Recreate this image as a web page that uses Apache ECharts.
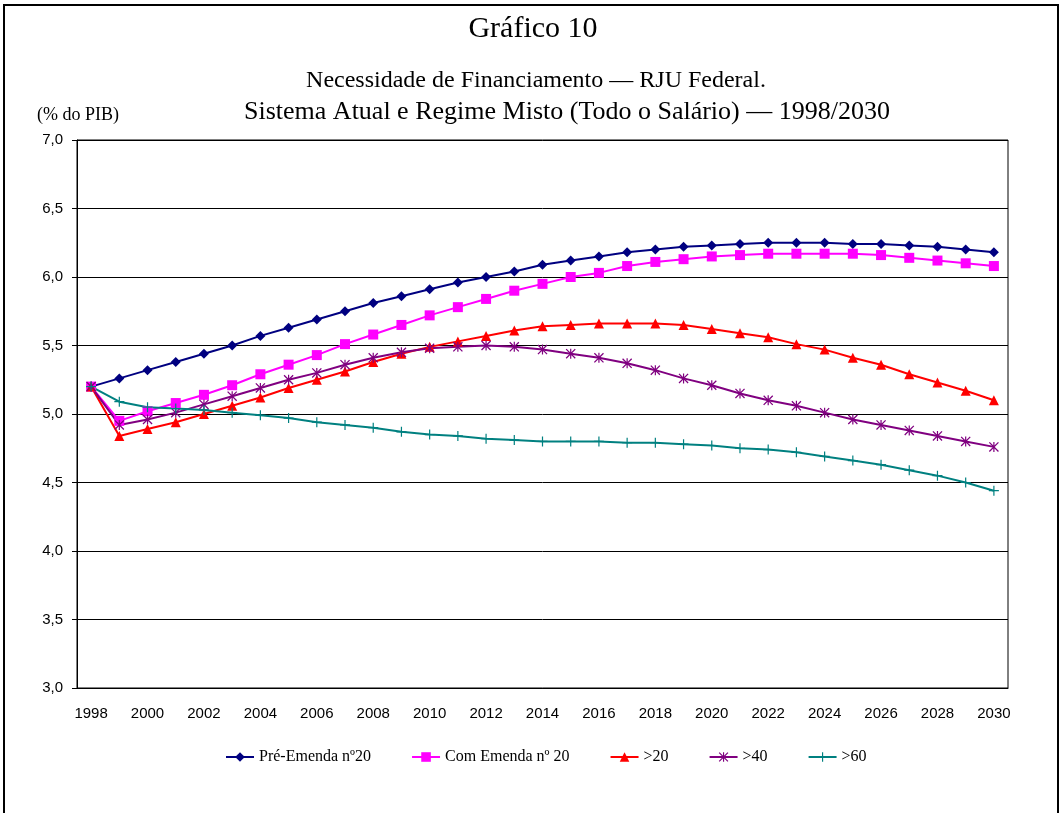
<!DOCTYPE html>
<html>
<head>
<meta charset="utf-8">
<title>Gráfico 10</title>
<script src="https://cdn.jsdelivr.net/npm/echarts@6/dist/echarts.min.js"></script>
<style>
  html, body { margin: 0; padding: 0; background: #fff; }
  #chart { width: 1064px; height: 813px; }
</style>
</head>
<body>
<div id="chart"></div>
<script>
// anos 1998..2030
const years = [];
for (let y = 1998; y <= 2030; y++) years.push(String(y));

const preEmenda = [5.20, 5.26, 5.32, 5.38, 5.44, 5.50, 5.57, 5.63, 5.69, 5.75, 5.81, 5.86, 5.91, 5.96, 6.00,
  6.04, 6.09, 6.12, 6.15, 6.18, 6.20, 6.22, 6.23, 6.24, 6.25, 6.25, 6.25, 6.24, 6.24, 6.23, 6.22, 6.20, 6.18];
const comEmenda = [5.20, 4.95, 5.02, 5.08, 5.14, 5.21, 5.29, 5.36, 5.43, 5.51, 5.58, 5.65, 5.72, 5.78, 5.84,
  5.90, 5.95, 6.00, 6.03, 6.08, 6.11, 6.13, 6.15, 6.16, 6.17, 6.17, 6.17, 6.17, 6.16, 6.14, 6.12, 6.10, 6.08];
const mais20 = [5.20, 4.84, 4.89, 4.94, 5.00, 5.06, 5.12, 5.19, 5.25, 5.31, 5.38, 5.44, 5.49, 5.53, 5.57,
  5.61, 5.64, 5.65, 5.66, 5.66, 5.66, 5.65, 5.62, 5.59, 5.56, 5.51, 5.47, 5.41, 5.36, 5.29, 5.23, 5.17, 5.10];
const mais40 = [5.20, 4.92, 4.96, 5.01, 5.07, 5.13, 5.19, 5.25, 5.30, 5.36, 5.41, 5.45, 5.48, 5.49, 5.50,
  5.49, 5.47, 5.44, 5.41, 5.37, 5.32, 5.26, 5.21, 5.15, 5.10, 5.06, 5.01, 4.96, 4.92, 4.88, 4.84, 4.80, 4.76];
const mais60 = [5.20, 5.09, 5.05, 5.04, 5.03, 5.01, 4.99, 4.97, 4.94, 4.92, 4.90, 4.87, 4.85, 4.84, 4.82,
  4.81, 4.80, 4.80, 4.80, 4.79, 4.79, 4.78, 4.77, 4.75, 4.74, 4.72, 4.69, 4.66, 4.63, 4.59, 4.55, 4.50, 4.44];

const seriesNames = ['Pré-Emenda nº20', 'Com Emenda nº 20', '>20', '>40', '>60'];

// simbolos desenhados como paths (asterisco e cruz)
const asterisk = 'path://M4.4,0H5.6V10H4.4Z M0,0.9L0.9,0L10,9.1L9.1,10Z M9.1,0L10,0.9L0.9,10L0,9.1Z';
const plus = 'path://M4.4,0H5.6V10H4.4Z M0,4.4H10V5.6H0Z';

const serifFont = '"Liberation Serif", "Times New Roman", serif';
const sansFont = '"Liberation Sans", Arial, sans-serif';

function makeSeries(name, data, color, symbol, size) {
  return {
    name: name,
    type: 'line',
    data: data,
    symbol: symbol,
    symbolSize: size,
    showAllSymbol: true,
    lineStyle: { color: color, width: 2 },
    itemStyle: { color: color },
    emphasis: { disabled: true },
    animation: false
  };
}

const chart = echarts.init(document.getElementById('chart'), null, { renderer: 'canvas' });

chart.setOption({
  backgroundColor: '#fff',
  animation: false,
  graphic: [
    { type: 'rect', shape: { x: 4, y: 5, width: 1054, height: 900 },
      style: { fill: 'none', stroke: '#000', lineWidth: 2 } },
    { type: 'text', x: 533, y: 29,
      style: { text: 'Gráfico 10', font: '30px ' + serifFont, fill: '#000', textAlign: 'center', textVerticalAlign: 'middle' } },
    { type: 'text', x: 536, y: 81,
      style: { text: 'Necessidade de Financiamento — RJU Federal.', font: '24px ' + serifFont, fill: '#000', textAlign: 'center', textVerticalAlign: 'middle' } },
    { type: 'text', x: 567, y: 112,
      style: { text: 'Sistema Atual e Regime Misto (Todo o Salário) — 1998/2030', font: '26px ' + serifFont, fill: '#000', textAlign: 'center', textVerticalAlign: 'middle' } },
    { type: 'text', x: 37, y: 115,
      style: { text: '(% do PIB)', font: '18px ' + serifFont, fill: '#000', textAlign: 'left', textVerticalAlign: 'middle' } }
  ],
  legend: {
    data: seriesNames,
    left: 220,
    top: 744,
    itemWidth: 28,
    itemHeight: 12,
    itemGap: 40,
    textStyle: { fontFamily: serifFont, fontSize: 16, color: '#000' }
  },
  grid: { left: 77, right: 56, top: 140, bottom: 125, show: true, borderColor: '#000', borderWidth: 1 },
  xAxis: {
    type: 'category',
    data: years,
    boundaryGap: true,
    axisLine: { lineStyle: { color: '#000', width: 1 } },
    axisTick: { interval: 0, length: 5, lineStyle: { color: '#000' } },
    axisLabel: { interval: 1, margin: 18, color: '#000', fontFamily: sansFont, fontSize: 15 },
    splitLine: { show: false }
  },
  yAxis: {
    type: 'value',
    min: 3,
    max: 7,
    interval: 0.5,
    axisLine: { show: true, lineStyle: { color: '#000', width: 1 } },
    axisTick: { show: true, length: 5, lineStyle: { color: '#000' } },
    axisLabel: {
      margin: 14, color: '#000', fontFamily: sansFont, fontSize: 15,
      formatter: v => v.toFixed(1).replace('.', ',')
    },
    splitLine: { lineStyle: { color: '#000', width: 1 } }
  },
  series: [
    makeSeries(seriesNames[0], preEmenda, '#000080', 'diamond', 10),
    makeSeries(seriesNames[1], comEmenda, '#ff00ff', 'rect', 10),
    makeSeries(seriesNames[2], mais20, '#ff0000', 'triangle', 10),
    makeSeries(seriesNames[3], mais40, '#800080', asterisk, 10),
    makeSeries(seriesNames[4], mais60, '#008080', plus, 10)
  ]
});
</script>
</body>
</html>
